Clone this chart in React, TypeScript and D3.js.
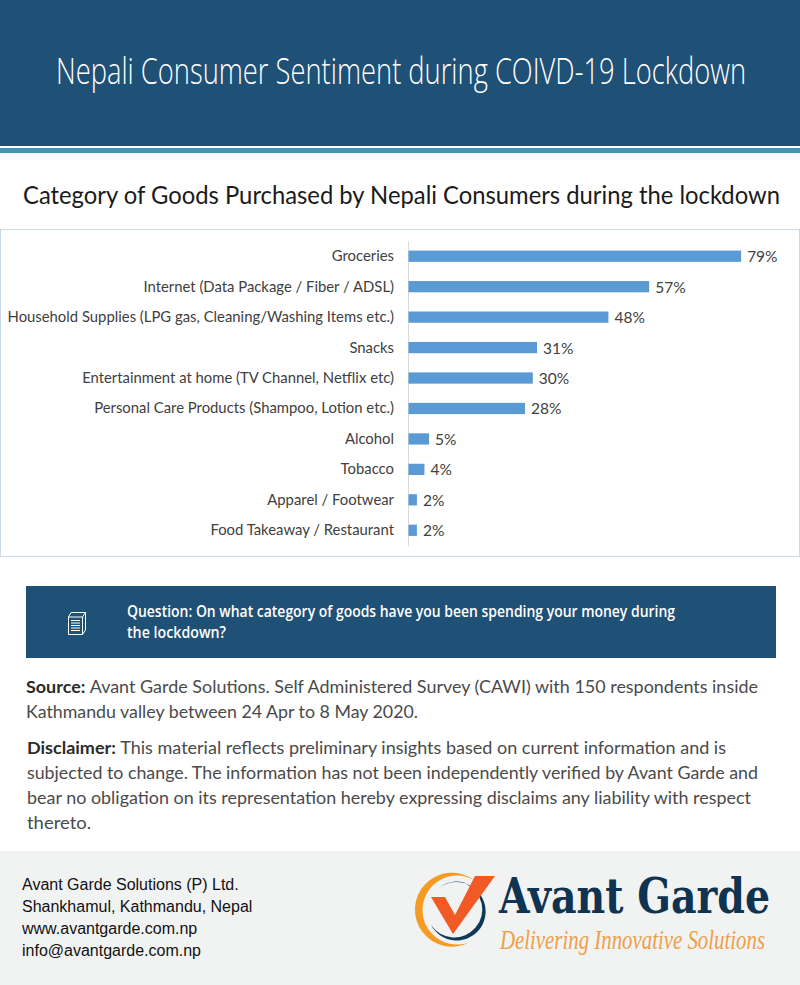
import React from "react";
import * as d3 from "d3";

const categories = [
  "Groceries",
  "Internet (Data Package / Fiber / ADSL)",
  "Household Supplies (LPG gas, Cleaning/Washing Items etc.)",
  "Snacks",
  "Entertainment at home (TV Channel, Netflix etc)",
  "Personal Care Products (Shampoo, Lotion etc.)",
  "Alcohol",
  "Tobacco",
  "Apparel / Footwear",
  "Food Takeaway / Restaurant",
];
const values = [79.2, 57.3, 47.6, 30.6, 29.6, 27.75, 4.9, 3.8, 2, 2];
const valueLabels = ["79%", "57%", "48%", "31%", "30%", "28%", "5%", "4%", "2%", "2%"];

const NAVY = "#1f5075";

function para(x: number, lines: { y: number; parts: [string, boolean][]; len: number }[]) {
  return lines.map((l, i) => (
    <text key={i} x={x} y={l.y} fontFamily="Lato" fontSize={17.4} fill="#4a4a4a" textLength={l.len} lengthAdjust="spacingAndGlyphs">
      {l.parts.map(([t, b], j) => (
        <tspan key={j} fontWeight={b ? 700 : 400} fill={b ? "#2b2b2b" : "#4a4a4a"}>{t}</tspan>
      ))}
    </text>
  ));
}

export default function App() {
  const x = d3.scaleLinear().domain([0, 100]).range([408.5, 828.5]);
  const y = d3.scaleBand<string>().domain(categories).range([241, 545.5]).paddingInner(0.63).paddingOuter(0.315);
  return (
    <svg width={800} height={985} viewBox="0 0 800 985" style={{ position: "absolute", left: 0, top: 0, background: "#fff" }}>
      <rect x={0} y={0} width={800} height={146} fill={NAVY} />
      <rect x={0} y={148} width={800} height={5} fill="#4095b8" />
      <text x={56} y={84} fontFamily="Open Sans" fontWeight={300} fontSize={37} fill="#fff" textLength={690} lengthAdjust="spacingAndGlyphs">
        Nepali Consumer Sentiment during COIVD-19 Lockdown
      </text>
      <text x={23} y={204} fontFamily="Lato" fontSize={24.5} fill="#1a1a1a" textLength={757} lengthAdjust="spacingAndGlyphs">
        Category of Goods Purchased by Nepali Consumers during the lockdown
      </text>

      <rect x={0.5} y={229.5} width={799} height={327} fill="#fff" stroke="#c9dbe6" strokeWidth={1} />
      <line x1={408.5} x2={408.5} y1={241} y2={546} stroke="#d9d9d9" strokeWidth={1} />
      {categories.map((c, i) => {
        const by = y(c)!;
        const cy = by + y.bandwidth() / 2;
        return (
          <g key={c}>
            <text x={394} y={cy + 5} textAnchor="end" fontFamily="Lato" fontSize={14.85} fill="#404040">{c}</text>
            <rect x={x(0)} y={by} width={x(values[i]) - x(0)} height={y.bandwidth()} fill="#5b9bd5" />
            <text x={x(values[i]) + 6} y={cy + 6} fontFamily="Lato" fontSize={15.5} fill="#404040">{valueLabels[i]}</text>
          </g>
        );
      })}

      <rect x={26} y={586} width={750} height={72} fill={NAVY} />
      <g fill="none" stroke="#fff" strokeWidth={1}>
        <path d="M71 612.5 L85.5 612.5 L85.5 630 L82.5 634.5 L68.5 634.5 L68.5 617 Z" />
        <path d="M68.5 617 L82.5 617 L85.5 612.5 M82.5 617 L82.5 634.5" />
        <path d="M71 620.5 H80 M71 623 H80 M71 625.5 H80 M71 628 H80 M71 630.5 H80" strokeWidth={1.1} />
      </g>
      <g fontFamily="Open Sans" fontSize={16.5} fontWeight={600} fill="#fff">
        <text x={127} y={617} textLength={548} lengthAdjust="spacingAndGlyphs">Question: On what category of goods have you been spending your money during</text>
        <text x={127} y={638} textLength={99} lengthAdjust="spacingAndGlyphs">the lockdown?</text>
      </g>

      {para(26, [
        { y: 693, len: 732, parts: [["Source: ", true], ["Avant Garde Solutions. Self Administered Survey (CAWI) ", false], ["with 150 respondents inside", false]] },
        { y: 718, len: 392, parts: [["Kathmandu valley between 24 Apr to 8 May 2020.", false]] },
      ])}
      {para(27, [
        { y: 754, len: 699, parts: [["Disclaimer: ", true], ["This material reflects preliminary insights based on current information and is", false]] },
        { y: 779, len: 731, parts: [["subjected to change. The information has not been independently verified by Avant Garde and", false]] },
        { y: 804, len: 724, parts: [["bear no obligation on its representation hereby expressing disclaims any liability with respect", false]] },
        { y: 829, len: 64, parts: [["thereto.", false]] },
      ])}

      <rect x={0} y={851} width={800} height={134} fill="#f1f3f3" />
      <g fontFamily="Liberation Sans" fontSize={16} fill="#111">
        <text x={22} y={890}>Avant Garde Solutions (P) Ltd.</text>
        <text x={22} y={912}>Shankhamul, Kathmandu, Nepal</text>
        <text x={22} y={934}>www.avantgarde.com.np</text>
        <text x={22} y={956}>info@avantgarde.com.np</text>
      </g>

      <path fill="#f59b23" d="M474 880 A37 37 0 1 0 470 942 A34.5 34.5 0 1 1 474 880 Z" />
      <path fill="#0f3a57" d="M466 884 A29 29 0 1 1 431 925 A28 28 0 1 0 466 884 Z" />
      <path fill="#0f3a57" d="M440 887 A28 28 0 0 1 468 884 A32 32 0 0 0 440 887 Z" />
      <path fill="#f15a24" d="M431 897 L445 897 L455 915 L475 876 L495 876 L453 934 Z" />

      <text x={499} y={913} fontFamily="DejaVu Serif" fontWeight={700} fontSize={49} fill="#0f3350" textLength={271} lengthAdjust="spacingAndGlyphs">Avant Garde</text>
      <text x={500} y={949} fontFamily="Liberation Serif" fontStyle="italic" fontSize={27} fill="#ee9f45" textLength={265} lengthAdjust="spacingAndGlyphs">Delivering Innovative Solutions</text>
    </svg>
  );
}
